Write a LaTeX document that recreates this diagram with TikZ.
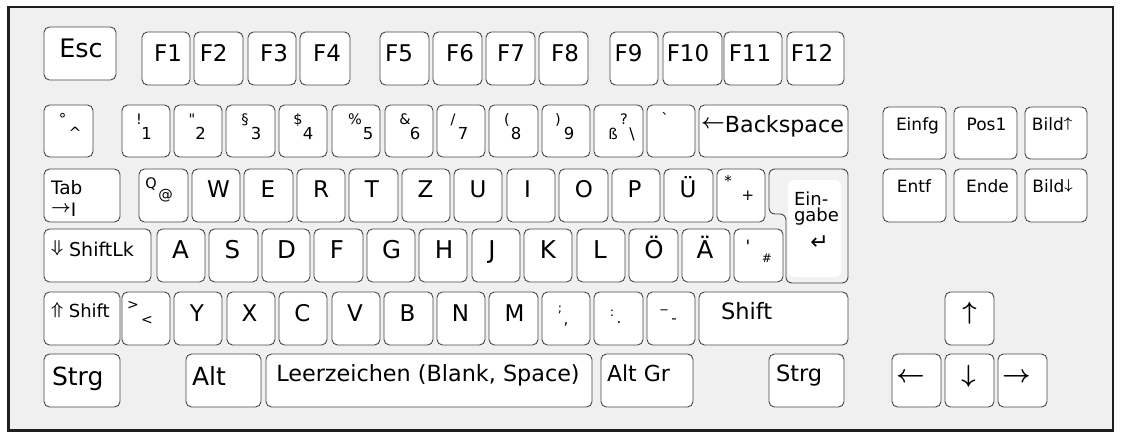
\documentclass[tikz,border=0pt]{standalone}
\usepackage{fontspec}
\setmainfont{DejaVu Sans}[Ligatures=TeXOff]
\tikzset{
  keybox/.style={draw=black!72, fill=white, line width=0.9pt, rounded corners=5.5pt},
  framebox/.style={draw=black!88, fill=black!6, line width=2.4pt},
  lbl/.style={inner sep=0pt, outer sep=0pt}
}
\newcommand\kb[4]{\draw[keybox] (#1,#2) rectangle (#3,#4);}
\newcommand\lb[6][base]{\node[lbl,anchor=#1,font=\fontsize{#5}{#5}\selectfont] (#2) at (#3,#4) {#6};}
\newcommand\sz[2]{{\fontsize{#1}{#1}\selectfont #2}}
\newcommand\rarr[2]{\raisebox{0.194\dimexpr#1pt\relax}{\sz{#1}{\boldmath$#2$}}}
\newcommand\barr[1]{{\boldmath$#1$}}
\begin{document}
\begin{tikzpicture}[x=1pt,y=-1pt]
\useasboundingbox (0,0) rectangle (1122,439);
\fill[white] (0,0) rectangle (1122,439);
\draw[framebox] (8.5,7) rectangle (1113,430.3);

% ---------- function row
\kb{44}{27}{116}{80}
\kb{142}{32}{190}{85} \kb{194}{32}{243}{85} \kb{248}{32}{296}{85} \kb{300}{32}{350}{85}
\kb{380}{32}{429}{85} \kb{433}{32}{482}{85} \kb{486}{32}{535}{85} \kb{539}{32}{588}{85}
\kb{610}{32}{658}{85} \kb{663}{32}{722}{85} \kb{724}{32}{782}{85} \kb{787}{32}{844}{85}
\lb{tEsc}{81}{57.5}{25.5}{Esc}
\lb{tF1}{168}{61.5}{23}{F1}
\lb{tF2}{213.7}{61.5}{23}{F2}
\lb{tF3}{274}{61.5}{23}{F3}
\lb{tF4}{327}{61.5}{23}{F4}
\lb{tF5}{399}{61.5}{23}{F5}
\lb{tF6}{460}{61.5}{23}{F6}
\lb{tF7}{511}{61.5}{23}{F7}
\lb{tF8}{565}{61.5}{23}{F8}
\lb{tF9}{628.5}{61.5}{23}{F9}
\lb{tF10}{688}{61.5}{23}{F10}
\lb{tF11}{750}{61.5}{23}{F11}
\lb{tF12}{812}{61.5}{23}{F12}

% ---------- number row
\kb{44}{105}{93}{157}
\kb{122}{105}{170}{157} \kb{174}{105}{222}{157} \kb{226}{105}{275}{157} \kb{279}{105}{327}{157}
\kb{332}{105}{380}{157} \kb{385}{105}{433}{157} \kb{437}{105}{485}{157} \kb{489}{105}{538}{157}
\kb{542}{105}{590}{157} \kb{594}{105}{643}{157} \kb{647}{105}{695}{157} \kb{699}{105}{848}{157}
\lb{tDeg}{62.5}{124}{15}{°}
\lb{tCirc}{75}{138}{15.5}{\textasciicircum}
\lb{tExcl}{139}{124}{14.5}{!}   \lb{tOne}{146.7}{139.5}{16.5}{1}
\lb{tQuot}{192}{124}{14.5}{"}   \lb{tTwo}{200.7}{139.5}{16.5}{2}
\lb{tPara}{245}{124}{14.5}{§}   \lb{tThree}{256}{139.5}{16.5}{3}
\lb{tDoll}{298}{124}{14.5}{\$}  \lb{tFour}{308}{139.5}{16.5}{4}
\lb{tPerc}{355}{124}{14.5}{\%}  \lb{tFive}{368}{139.5}{16.5}{5}
\lb{tAmp}{405}{124}{14.5}{\&}   \lb{tSix}{415}{139.5}{16.5}{6}
\lb{tSlash}{453}{124}{14.5}{/}  \lb{tSeven}{463}{139.5}{16.5}{7}
\lb{tLpar}{507}{124}{14.5}{(}   \lb{tEight}{516}{139.5}{16.5}{8}
\lb{tRpar}{558}{124}{14.5}{)}   \lb{tNine}{569}{139.5}{16.5}{9}
\lb{tSz}{613}{139.5}{15}{ß} \lb{tQm}{624}{124}{14.5}{?} \lb{tBs}{632}{139.5}{16}{\textbackslash}
\lb{tGrave}{665}{124}{15}{`}
\lb{tBack}{772.5}{132.7}{22.2}{\rarr{21}{\leftarrow}Backspace}

% ---------- navigation block
\kb{883}{107}{946}{159} \kb{954}{107}{1017}{159} \kb{1025}{107}{1087}{159}
\kb{883}{169}{946}{222} \kb{954}{169}{1017}{222} \kb{1025}{169}{1087}{222}
\lb{tIns}{917.5}{130}{17}{Einfg}
\lb{tPos}{986.5}{130}{17}{Pos1}
\lb{tPgUp}{1052}{130}{17}{Bild\rarr{14}{\uparrow}}
\lb{tDel}{914}{192}{17}{Entf}
\lb{tEnd}{987.5}{192}{17}{Ende}
\lb{tPgDn}{1052.5}{192}{17}{Bild\rarr{14}{\downarrow}}

% ---------- QWERTZ row
\kb{44}{169}{120}{222}
\kb{139}{169}{188}{222} \kb{192}{169}{240}{222} \kb{244}{169}{293}{222} \kb{297}{169}{345}{222}
\kb{349}{169}{398}{222} \kb{402}{169}{450}{222} \kb{454}{169}{502}{222} \kb{507}{169}{555}{222}
\kb{559}{169}{608}{222} \kb{612}{169}{660}{222} \kb{664}{169}{713}{222} \kb{717}{169}{765}{222}
\node[lbl, anchor=base west, align=left, font=\fontsize{18.5}{21.7}\selectfont] (tTab) at (51,216) {Tab\\\rarr{17}{\rightarrow}I};
\lb{tQ}{151}{188}{14.5}{Q} \lb{tAt}{165.5}{199}{14.5}{@}
\lb{tW}{218.5}{197}{23}{W}
\lb{tE}{268}{197}{23}{E}
\lb{tR}{321}{197}{23}{R}
\lb{tT}{372}{197}{23}{T}
\lb{tZ}{425.5}{197}{23}{Z}
\lb{tU}{478}{197}{23}{U}
\lb{tI}{527.5}{197}{23}{I}
\lb{tO}{584}{197}{23}{O}
\lb{tP}{634.5}{197}{23}{P}
\lb{tUe}{688}{197}{23}{Ü}
\lb{tStar}{728}{186}{15}{*} \lb{tPlus}{748}{200}{15}{+}

% ---------- Enter
\draw[keybox, fill=black!5, rounded corners=6pt] (769,169) -- (848,169) -- (848,283) -- (786,283) -- (786,214) -- (769,214) -- cycle;
\fill[white, rounded corners=6pt] (788,180) rectangle (841,277);
\node[lbl, anchor=base west, align=left, font=\fontsize{18}{17}\selectfont] (tEnter) at (794,221) {Ein-\\[-1pt]gabe};
\lb[center]{tRet}{819.5}{243}{22}{↵}

% ---------- ASDF row
\kb{44}{229}{151}{282}
\kb{157}{229}{205}{282} \kb{209}{229}{258}{282} \kb{262}{229}{310}{282} \kb{314}{229}{363}{282}
\kb{367}{229}{415}{282} \kb{419}{229}{467}{282} \kb{472}{229}{520}{282} \kb{524}{229}{572}{282}
\kb{577}{229}{625}{282} \kb{629}{229}{678}{282} \kb{682}{229}{730}{282} \kb{734}{229}{783}{282}
\lb[base west]{tCaps}{51}{256}{19}{\rarr{17}{\Downarrow} ShiftLk}
\lb{tA}{180.5}{258}{24.5}{A}
\lb{tS}{232.5}{258}{24.5}{S}
\lb{tD}{286.5}{258}{24.5}{D}
\lb{tF}{337}{258}{24.5}{F}
\lb{tG}{391.5}{258}{24.5}{G}
\lb{tH}{444}{258}{24.5}{H}
\lb{tJ}{492}{258}{24.5}{J}
\lb{tK}{548}{258}{24.5}{K}
\lb{tL}{600}{258}{24.5}{L}
\lb{tOe}{654}{258}{24.5}{Ö}
\lb{tAe}{705}{258}{24.5}{Ä}
\lb{tApos}{748}{252}{17}{'} \lb{tHash}{767}{262}{12}{\#}

% ---------- YXCV row
\kb{44}{292}{120}{345}
\kb{122}{292}{170}{345} \kb{174}{292}{222}{345} \kb{227}{292}{275}{345} \kb{279}{292}{327}{345}
\kb{332}{292}{380}{345} \kb{384}{292}{433}{345} \kb{437}{292}{485}{345} \kb{489}{292}{538}{345}
\kb{542}{292}{590}{345} \kb{594}{292}{643}{345} \kb{647}{292}{695}{345} \kb{699}{292}{848}{345}
\kb{945}{292}{994}{345}
\lb[base west]{tShL}{51}{317.3}{18}{\rarr{16}{\Uparrow} Shift}
\lb{tGt}{133}{309.5}{14}{>} \lb{tLt}{147}{324.5}{14}{<}
\lb{tY}{197}{321.5}{23}{Y}
\lb{tX}{249.5}{321.5}{23}{X}
\lb{tC}{302.5}{321.5}{23}{C}
\lb{tV}{355}{321.5}{23}{V}
\lb{tB}{407.5}{321.5}{23}{B}
\lb{tN}{460.5}{321.5}{23}{N}
\lb{tM}{514.5}{321.5}{23}{M}
\lb{tSemi}{560}{312}{12.5}{;} \lb{tComma}{566}{324}{15}{,}
\lb{tColon}{612}{316}{12.5}{:} \lb{tDot}{619}{323.5}{15}{.}
\lb{tUnd}{664}{307.5}{14}{\_} \lb{tHyph}{674}{323}{15}{-}
\lb[base west]{tShR}{721}{319.3}{22.5}{Shift}
\lb[center]{tUp}{969.5}{313}{23}{\barr{\uparrow}}

% ---------- bottom row
\kb{44}{354}{120}{407} \kb{186}{354}{261}{407} \kb{266}{354}{592}{407}
\kb{601}{354}{693}{407} \kb{769}{354}{844}{407}
\kb{892}{354}{941}{407} \kb{945}{354}{994}{407} \kb{998}{354}{1047}{407}
\lb[base west]{tCtrlL}{52}{385.7}{25}{Strg}
\lb[base west]{tAlt}{192}{385.7}{25}{Alt}
\lb{tSpace}{428}{381.7}{22.3}{Leerzeichen (Blank, Space)}
\lb[base west]{tAltGr}{607}{381.7}{22}{Alt Gr}
\lb[base west]{tCtrlR}{776}{381.7}{22.5}{Strg}
\lb[center]{tLeft}{910.5}{378}{23}{\barr{\leftarrow}}
\lb[center]{tDown}{968.5}{376.5}{23}{\barr{\downarrow}}
\lb[center]{tRight}{1016.5}{378}{23}{\barr{\rightarrow}}
\end{tikzpicture}
\end{document}
